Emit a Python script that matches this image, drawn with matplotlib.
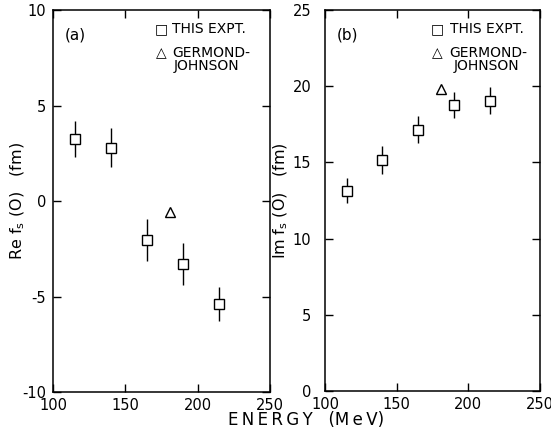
import matplotlib.pyplot as plt

# pion-nucleus forward amplitude, real and imaginary parts
energy = [115, 140, 165, 190, 215]
re_f = [3.25, 2.8, -2.05, -3.3, -5.4]
re_err = [0.95, 1.0, 1.1, 1.1, 0.9]
im_f = [13.15, 15.15, 17.15, 18.75, 19.05]
im_err = [0.8, 0.9, 0.9, 0.85, 0.9]

gj_energy = [181]
gj_re = [-0.55]
gj_im = [19.85]

plt.rcParams["font.family"] = ["DejaVu Sans"]
plt.rcParams["axes.unicode_minus"] = False

fig = plt.figure(figsize=(5.51, 4.37), dpi=100)
ax_a = fig.add_axes([0.0962, 0.103, 0.394, 0.874])
ax_b = fig.add_axes([0.590, 0.105, 0.390, 0.872])


def draw_panel(ax, y, yerr, gj_y, ylim, yticks, ylabel, tag, ypad, label_x, key_x):
    ax.errorbar(energy, y, yerr=yerr, fmt="s", ms=7, mfc="white", mec="black",
                mew=1.0, ecolor="black", elinewidth=1.0, capsize=0, zorder=3)
    ax.plot(gj_energy, gj_y, "^", ms=7, mfc="white", mec="black", mew=1.0, zorder=3)
    ax.set_xlim(100, 250)
    ax.set_ylim(*ylim)
    ax.set_xticks([100, 150, 200, 250])
    ax.set_yticks(yticks)
    ax.tick_params(direction="in", length=6, width=1, top=True, right=True,
                   labelsize=10.5)
    ax.tick_params(axis="y", pad=ypad)
    ax.tick_params(axis="x", pad=4)
    for s in ax.spines.values():
        s.set_linewidth(1.1)
    ax.set_ylabel(ylabel, fontsize=11.5)
    ax.yaxis.set_label_coords(label_x, 0.5)
    ax.text(0.055, 0.955, tag, transform=ax.transAxes, fontsize=11, va="top")

    # key in the upper right corner
    sx, tx, jx = key_x
    kw = dict(transform=ax.transAxes, va="center", fontsize=10)
    ax.text(sx, 0.950, "\u25a1", ha="center", **kw)
    ax.text(tx, 0.950, "THIS EXPT.", ha="left", **kw)
    ax.text(sx, 0.887, "\u25b3", ha="center", **kw)
    ax.text(tx, 0.887, "GERMOND-", ha="left", **kw)
    ax.text(jx, 0.853, "JOHNSON", ha="left", **kw)


draw_panel(ax_a, re_f, re_err, gj_re, (-10, 10), [-10, -5, 0, 5, 10],
           "Re f$_\\mathregular{s}$ (O)   (fm)", "(a)", 5, -0.12,
           (0.50, 0.548, 0.555))
draw_panel(ax_b, im_f, im_err, gj_im, (0, 25), [0, 5, 10, 15, 20, 25],
           "Im f$_\\mathregular{s}$ (O)   (fm)", "(b)", 10, -0.165,
           (0.52, 0.58, 0.60))

fig.text(0.555, 0.018, "E\u2009N\u2009E\u2009R\u2009G\u2009Y   (M\u2009e\u2009V)",
         ha="center", va="bottom", fontsize=12)

fig.savefig("out.png", dpi=100, facecolor="white")
